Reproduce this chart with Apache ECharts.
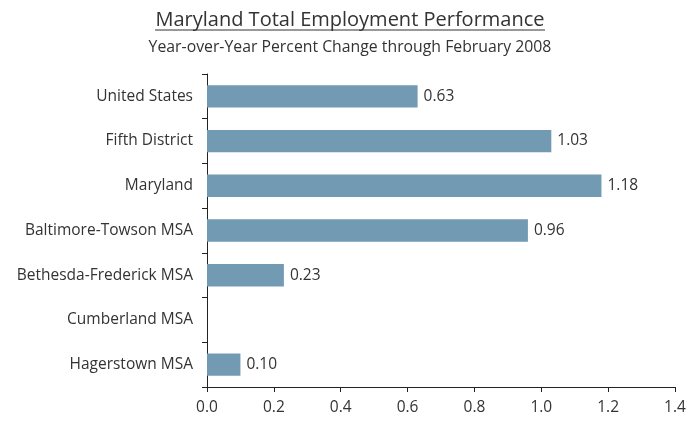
<!DOCTYPE html>
<html>
<head>
<meta charset="utf-8">
<script src="https://cdn.jsdelivr.net/npm/echarts@6/dist/echarts.min.js"></script>
<style>
  html, body { margin: 0; padding: 0; background: #fff; }
  #chart { width: 700px; height: 425px; }
</style>
</head>
<body>
<div id="chart"></div>
<script>
  // categories top to bottom
  var regions = [
    "United States",
    "Fifth District",
    "Maryland",
    "Baltimore-Towson MSA",
    "Bethesda-Frederick MSA",
    "Cumberland MSA",
    "Hagerstown MSA"
  ];
  // year-over-year % change, Feb 2008 (Cumberland has no bar)
  var pctChange = [0.63, 1.03, 1.18, 0.96, 0.23, null, 0.10];
  var xTicks = [0, 0.2, 0.4, 0.6, 0.8, 1.0, 1.2, 1.4];

  var font = "Open Sans";
  var chart = echarts.init(document.getElementById("chart"));
  var option = {
    animation: false,
    title: [
      {
        text: "Maryland Total Employment Performance",
        left: "center",
        top: 5,
        textStyle: { fontFamily: font, fontSize: 20, fontWeight: "normal", color: "#333" }
      },
      {
        text: "Year-over-Year Percent Change through February 2008",
        left: "center",
        top: 34,
        textStyle: { fontFamily: font, fontSize: 15.8, fontWeight: "normal", color: "#333" }
      }
    ],
    graphic: [
      {
        // underline under the title
        type: "line",
        shape: { x1: 155, y1: 30, x2: 545, y2: 30 },
        style: { stroke: "#333", lineWidth: 1 }
      }
    ],
    grid: { left: 207, right: 25, top: 74, bottom: 38 },
    xAxis: {
      type: "value",
      min: 0,
      max: 1.4,
      interval: 0.2,
      splitLine: { show: false },
      axisLine: { show: true, lineStyle: { color: "#222" } },
      axisTick: { show: true, length: 5, lineStyle: { color: "#222" } },
      axisLabel: {
        margin: 13,
        fontFamily: font,
        fontSize: 15.5,
        color: "#333",
        formatter: function (v) {
          return xTicks.indexOf(Math.round(v * 10) / 10) >= 0 ? v.toFixed(1) : "";
        }
      }
    },
    yAxis: {
      type: "category",
      data: regions,
      inverse: true,
      axisLine: { show: true, lineStyle: { color: "#222" } },
      axisTick: { show: true, length: 5, lineStyle: { color: "#222" } },
      axisLabel: { margin: 14, fontFamily: font, fontSize: 15.5, color: "#333" }
    },
    series: [
      {
        type: "bar",
        data: pctChange,
        barWidth: "50%",
        itemStyle: { color: "#729ab3" },
        label: {
          show: true,
          position: "right",
          distance: 6,
          fontFamily: font,
          fontSize: 15.5,
          color: "#333",
          formatter: function (p) {
            return p.value == null ? "" : p.value.toFixed(2);
          }
        }
      }
    ]
  };
  chart.setOption(option);
</script>
</body>
</html>
